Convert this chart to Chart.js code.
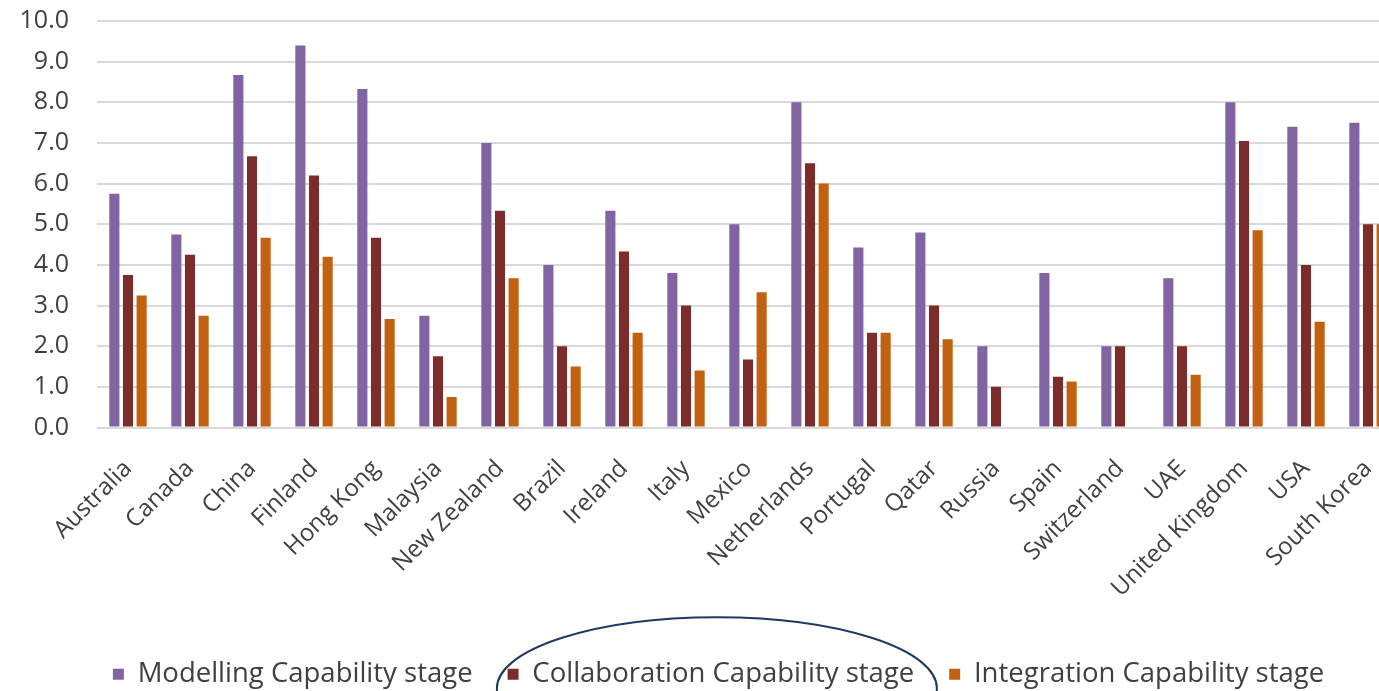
<!DOCTYPE html>
<html>
<head>
<meta charset="utf-8">
<script src="https://cdn.jsdelivr.net/npm/chart.js@4"></script>
<style>
  html, body { margin: 0; padding: 0; background: #fff; overflow: hidden; width: 1379px; height: 691px; }
  #wrap { position: absolute; left: 0; top: 0; width: 1440px; height: 691px; }
</style>
</head>
<body>
<div id="wrap"><canvas id="c"></canvas></div>
<script>
const categories = ["Australia","Canada","China","Finland","Hong Kong","Malaysia","New Zealand","Brazil","Ireland","Italy","Mexico","Netherlands","Portugal","Qatar","Russia","Spain","Switzerland","UAE","United Kingdom","USA","South Korea"];
const modelling     = [5.75, 4.75, 8.67, 9.4, 8.33, 2.75, 7.0, 4.0, 5.33, 3.8, 5.0, 8.0, 4.43, 4.8, 2.0, 3.8, 2.0, 3.67, 8.0, 7.4, 7.5];
const collaboration = [3.75, 4.25, 6.67, 6.2, 4.67, 1.75, 5.33, 2.0, 4.33, 3.0, 1.67, 6.5, 2.33, 3.0, 1.0, 1.25, 2.0, 2.0, 7.05, 4.0, 5.0];
const integration   = [3.25, 2.75, 4.67, 4.2, 2.67, 0.75, 3.67, 1.5, 2.33, 1.4, 3.33, 6.0, 2.33, 2.17, 0, 1.13, 0, 1.3, 4.85, 2.6, 5.0];
const seriesNames = ["Modelling Capability stage","Collaboration Capability stage","Integration Capability stage"];
const yTicks = [0,1,2,3,4,5,6,7,8,9,10];

const FONT = "'Open Sans', Lato, sans-serif";
const colors = ["#8064A2", "#7B2C2B", "#C2610F"];

const legendShift = {
  id: 'legendShift',
  afterLayout(chart) {
    const lg = chart.legend;
    if (lg) { lg.left += 15; lg.right += 15; }
  }
};

const ellipsePlugin = {
  id: 'ellipse',
  afterDraw(chart) {
    const lg = chart.legend;
    if (!lg || !lg.legendHitBoxes || !lg.legendHitBoxes[1]) return;
    const hb = lg.legendHitBoxes[1];
    const cx = hb.left + hb.width / 2 + 6;
    const cy = hb.top + hb.height / 2 + 14;
    const ctx = chart.ctx;
    ctx.save();
    ctx.strokeStyle = "#1F3864";
    ctx.lineWidth = 2;
    ctx.beginPath();
    ctx.ellipse(cx, cy, 220, 71, 0, 0, Math.PI * 2);
    ctx.stroke();
    ctx.restore();
  }
};

new Chart(document.getElementById('c'), {
  type: 'bar',
  data: {
    labels: categories,
    datasets: [
      { label: seriesNames[0], data: modelling, backgroundColor: colors[0] },
      { label: seriesNames[1], data: collaboration, backgroundColor: colors[1] },
      { label: seriesNames[2], data: integration, backgroundColor: colors[2] }
    ]
  },
  options: {
    responsive: true,
    maintainAspectRatio: false,
    animation: false,
    devicePixelRatio: 1,
    layout: { padding: { left: 8, right: 41, top: 0, bottom: -7 } },
    datasets: { bar: { categoryPercentage: 0.66, barPercentage: 0.74 } },
    plugins: {
      legend: {
        position: 'bottom',
        labels: {
          font: { family: FONT, size: 27.5 },
          color: '#404040',
          boxWidth: 11,
          boxHeight: 11,
          padding: 35
        }
      },
      tooltip: { enabled: false }
    },
    scales: {
      x: {
        grid: { display: false, drawTicks: false },
        border: { display: false },
        ticks: {
          font: { family: FONT, size: 24 },
          color: '#404040',
          minRotation: 45,
          maxRotation: 45,
          autoSkip: false,
          padding: 27
        },
        afterFit(s) { s.height = 198; }
      },
      y: {
        min: 0,
        max: 10,
        afterBuildTicks(s) { s.ticks = yTicks.map(v => ({ value: v })); },
        grid: { color: '#D9D9D9', lineWidth: 2, drawTicks: true, tickLength: 22, tickColor: 'rgba(0,0,0,0)' },
        border: { display: false },
        ticks: {
          font: { family: FONT, size: 25 },
          color: '#404040',
          padding: 6,
          callback: v => Number(v).toFixed(1)
        },
        afterFit(s) { s.width = 89; }
      }
    }
  },
  plugins: [legendShift, ellipsePlugin]
});
</script>
</body>
</html>
